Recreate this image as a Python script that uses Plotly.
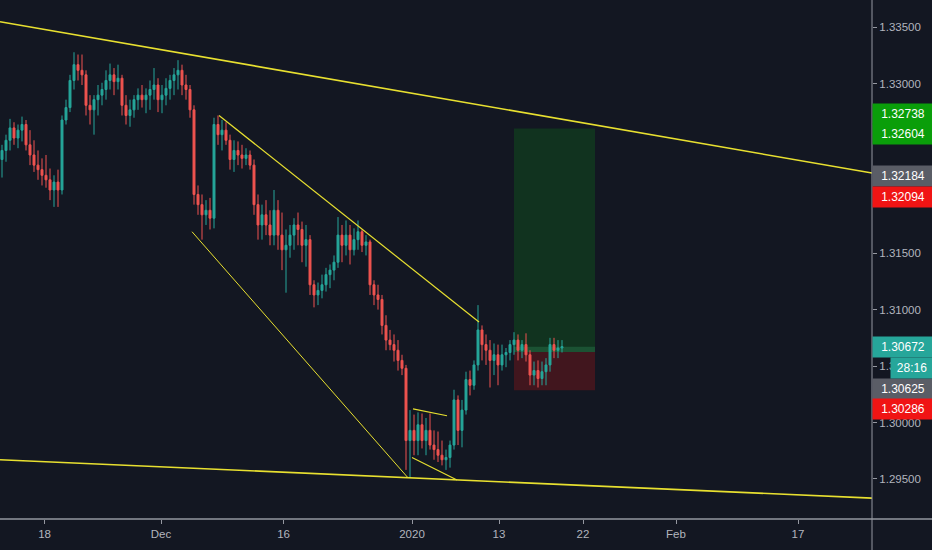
import plotly.graph_objs as go

# 4-hour-ish bars (price, GBP/USD style quotes)
first_open = 1.3233
closes = [1.3241, 1.3250, 1.3261, 1.3252, 1.3259, 1.3264, 1.3246, 1.3237, 1.3228, 1.3224,
          1.3219, 1.3215, 1.3206, 1.3213, 1.3206, 1.3268, 1.3279, 1.3303, 1.3317, 1.3312,
          1.3308, 1.3281, 1.3277, 1.3286, 1.3290, 1.3295, 1.3303, 1.3308, 1.3302, 1.3305,
          1.3281, 1.3272, 1.3277, 1.3286, 1.3290, 1.3286, 1.3290, 1.3295, 1.3299, 1.3286,
          1.3290, 1.3296, 1.3303, 1.3308, 1.3312, 1.3299, 1.3295, 1.3277, 1.3202, 1.3193,
          1.3184, 1.3188, 1.3181, 1.3264, 1.3255, 1.3259, 1.3250, 1.3233, 1.3241, 1.3237,
          1.3234, 1.3237, 1.3228, 1.3193, 1.3175, 1.3184, 1.3175, 1.3166, 1.3188, 1.3166,
          1.3153, 1.3157, 1.3166, 1.3175, 1.3171, 1.3157, 1.3162, 1.3122, 1.3113, 1.3117,
          1.3122, 1.3131, 1.3135, 1.3142, 1.3166, 1.3157, 1.3166, 1.3153, 1.3162, 1.3169,
          1.3157, 1.3160, 1.3122, 1.3113, 1.3109, 1.3086, 1.3073, 1.3069, 1.3064, 1.3055,
          1.3048, 1.2984, 1.2993, 1.2984, 1.2998, 1.2984, 1.2993, 1.2980, 1.2976, 1.2971,
          1.2967, 1.2969, 1.2980, 1.3020, 1.2993, 1.3011, 1.3038, 1.3033, 1.3051, 1.3082,
          1.3069, 1.3064, 1.3055, 1.3060, 1.3051, 1.3060, 1.3062, 1.3069, 1.3073, 1.3064,
          1.3069, 1.3060, 1.3042, 1.3046, 1.3039, 1.3045, 1.3051, 1.3069, 1.3064, 1.3066,
          1.30672]
highs = [1.3246, 1.3255, 1.3269, 1.3266, 1.3264, 1.3271, 1.3268, 1.3259, 1.3250, 1.3241,
         1.3234, 1.3237, 1.3225, 1.3219, 1.3224, 1.3272, 1.3286, 1.3308, 1.3328, 1.3326,
         1.3326, 1.3312, 1.3290, 1.3290, 1.3299, 1.3301, 1.3312, 1.3318, 1.3314, 1.3317,
         1.3308, 1.3290, 1.3286, 1.3290, 1.3296, 1.3299, 1.3296, 1.3303, 1.3314, 1.3305,
         1.3299, 1.3305, 1.3308, 1.3314, 1.3321, 1.3317, 1.3308, 1.3299, 1.3281, 1.3210,
         1.3202, 1.3197, 1.3199, 1.3270, 1.3272, 1.3268, 1.3266, 1.3255, 1.3250, 1.3249,
         1.3246, 1.3243, 1.3241, 1.3233, 1.3202, 1.3193, 1.3197, 1.3188, 1.3206, 1.3197,
         1.3186, 1.3171, 1.3175, 1.3181, 1.3186, 1.3178, 1.3175, 1.3166, 1.3126, 1.3124,
         1.3131, 1.3137, 1.3140, 1.3148, 1.3182, 1.3175, 1.3179, 1.3175, 1.3172, 1.3179,
         1.3171, 1.3166, 1.3162, 1.3126, 1.3122, 1.3113, 1.3095, 1.3082, 1.3078, 1.3073,
         1.3060, 1.3051, 1.3011, 1.3007, 1.3009, 1.3008, 1.3004, 1.3008, 1.2993, 1.2992,
         1.2984, 1.2976, 1.2984, 1.3029, 1.3024, 1.3020, 1.3045, 1.3046, 1.3055, 1.3104,
         1.3086, 1.3078, 1.3073, 1.3070, 1.3069, 1.3069, 1.3066, 1.3073, 1.3080, 1.3078,
         1.3073, 1.3079, 1.3064, 1.3054, 1.3055, 1.3054, 1.3057, 1.3075, 1.3075, 1.3073,
         1.3073]
lows = [1.3217, 1.3231, 1.3241, 1.3246, 1.3243, 1.3249, 1.3241, 1.3228, 1.3222, 1.3215,
        1.3210, 1.3208, 1.3197, 1.3191, 1.3191, 1.3202, 1.3264, 1.3275, 1.3295, 1.3303,
        1.3299, 1.3272, 1.3264, 1.3255, 1.3272, 1.3281, 1.3286, 1.3295, 1.3290, 1.3295,
        1.3272, 1.3264, 1.3262, 1.3270, 1.3277, 1.3279, 1.3274, 1.3277, 1.3286, 1.3275,
        1.3274, 1.3281, 1.3286, 1.3290, 1.3295, 1.3290, 1.3286, 1.3270, 1.3193, 1.3184,
        1.3162, 1.3175, 1.3171, 1.3172, 1.3246, 1.3241, 1.3246, 1.3224, 1.3222, 1.3228,
        1.3225, 1.3228, 1.3224, 1.3184, 1.3162, 1.3162, 1.3166, 1.3157, 1.3157, 1.3153,
        1.3135, 1.3115, 1.3146, 1.3153, 1.3157, 1.3142, 1.3138, 1.3113, 1.3102, 1.3104,
        1.3110, 1.3116, 1.3119, 1.3126, 1.3137, 1.3142, 1.3148, 1.3140, 1.3148, 1.3153,
        1.3151, 1.3148, 1.3113, 1.3104, 1.3100, 1.3078, 1.3064, 1.3064, 1.3054, 1.3046,
        1.3042, 1.2958, 1.2951, 1.2971, 1.2971, 1.2977, 1.2971, 1.2976, 1.2967, 1.2965,
        1.2962, 1.2958, 1.2960, 1.2976, 1.2980, 1.2978, 1.3007, 1.3024, 1.3029, 1.3046,
        1.3055, 1.3051, 1.3031, 1.3042, 1.3033, 1.3046, 1.3049, 1.3055, 1.3060, 1.3055,
        1.3057, 1.3054, 1.3033, 1.3033, 1.3031, 1.3033, 1.3033, 1.3045, 1.3057, 1.3057,
        1.3062]
opens = [first_open] + closes[:-1]
bars = list(range(len(closes)))

# x axis labels (bar index where each date falls)
tick_pos = [10.65, 39.75, 70.4, 102.5, 124.25, 145.25, 168.5, 199]
tick_text = ['18', 'Dec', '16', '2020', '13', '22', 'Feb', '17']
price_ticks = [1.295, 1.300, 1.305, 1.310, 1.315, 1.320, 1.325, 1.330, 1.335]

# drawn trendlines: ([bar0, bar1], [price0, price1])
upper_long = ([-0.5, 217.5], [1.3355, 1.3221])
lower_long = ([-0.5, 217.5], [1.2967, 1.2933])
wedge_top = ([54.25, 119.25], [1.3272, 1.3089])
wedge_bot = ([47.5, 101.5], [1.3169, 1.2951])
flag_top = ([102.75, 111.25], [1.3012, 1.3006])
flag_bot = ([102.5, 113.75], [1.2969, 1.2949])

# long position tool
pos_bars = [128, 148.25]
take_profit = 1.32604
entry = 1.30625
stop_loss = 1.30286
last_price = 1.30672

# price scale labels: text, colour, drawn at price
scale_labels = [
    ('1.32738', '#0a9e0a', 1.32735),
    ('1.32604', '#0a9e0a', 1.32552),
    ('1.32184', '#5a5d66', 1.32184),
    ('1.32094', '#f01414', 1.31998),
    ('1.30672', '#26a69a', 1.30673),
    ('1.30625', '#5a5d66', 1.30301),
    ('1.30286', '#f01414', 1.30119),
]
countdown = ('28:16', '#26a69a', 1.30483)

BG = '#131722'
TXT = '#b2b5be'
YEL = '#e8e030'

candles = go.Candlestick(
    x=bars, open=opens, high=highs, low=lows, close=closes,
    increasing=dict(line=dict(color='#26a69a', width=1), fillcolor='#26a69a'),
    decreasing=dict(line=dict(color='#ef5350', width=1), fillcolor='#ef5350'),
    whiskerwidth=0,
    showlegend=False,
    hoverinfo='skip',
)

data = [candles]
for line, w in [(upper_long, 1.6), (lower_long, 1.6),
                (wedge_top, 1.2), (wedge_bot, 1.0),
                (flag_top, 1.2), (flag_bot, 1.2)]:
    data.append(go.Scatter(x=line[0], y=line[1], mode='lines',
                           line=dict(color=YEL, width=w),
                           showlegend=False, hoverinfo='skip'))

shapes = [
    dict(type='rect', xref='x', yref='y', x0=pos_bars[0], x1=pos_bars[1],
         y0=entry, y1=take_profit, fillcolor='#11331f', line=dict(width=0), layer='below'),
    dict(type='rect', xref='x', yref='y', x0=pos_bars[0], x1=pos_bars[1],
         y0=entry, y1=last_price, fillcolor='#1b5233', line=dict(width=0), layer='below'),
    dict(type='rect', xref='x', yref='y', x0=pos_bars[0], x1=pos_bars[1],
         y0=stop_loss, y1=entry, fillcolor='#41161e', line=dict(width=0), layer='below'),
    # price scale separator and time scale separator
    dict(type='line', xref='paper', yref='paper', x0=1, x1=1, y0=-0.07, y1=1,
         line=dict(color='#9598a1', width=1)),
    dict(type='line', xref='paper', yref='paper', x0=0, x1=1.07, y0=0, y1=0,
         line=dict(color='#9598a1', width=1.5)),
]

annotations = []
for text, color, yp in scale_labels:
    annotations.append(dict(
        xref='paper', yref='y', x=1, y=yp, xanchor='left', yanchor='middle',
        text=text, showarrow=False, bgcolor=color, width=60, height=20,
        borderpad=0, align='center',
        font=dict(family='Liberation Sans', size=12, color='white'),
    ))
annotations.append(dict(
    xref='paper', yref='y', x=1, y=countdown[2], xanchor='left', yanchor='middle',
    xshift=18, text=countdown[0], showarrow=False, bgcolor=countdown[1],
    width=42, height=20, borderpad=0, align='center',
    font=dict(family='Liberation Sans', size=12, color='white'),
))

layout = go.Layout(
    width=932, height=550,
    margin=dict(l=0, r=60, t=0, b=31),
    paper_bgcolor=BG, plot_bgcolor=BG,
    font=dict(family='Liberation Sans', size=11, color=TXT),
    xaxis=dict(
        range=[-0.5, 217.5], tickvals=tick_pos, ticktext=tick_text,
        ticks='outside', ticklen=4, tickcolor='#9598a1',
        showgrid=False, zeroline=False, showline=False,
        rangeslider=dict(visible=False), fixedrange=True,
        tickfont=dict(size=11.5, color=TXT),
    ),
    yaxis=dict(
        side='right', range=[1.29145, 1.33743],
        tickvals=price_ticks, ticktext=['%.5f' % p for p in price_ticks],
        ticks='outside', ticklen=4, tickcolor='#9598a1',
        showgrid=False, zeroline=False, showline=False, fixedrange=True,
        tickfont=dict(size=11.5, color=TXT),
    ),
    shapes=shapes,
    annotations=annotations,
)

fig = go.Figure(data=data, layout=layout)
fig.write_html('out.html',
               config={'displayModeBar': False},
               post_script="document.body.style.margin='0';"
                           "document.body.style.background='#131722';"
                           "document.body.style.overflow='hidden';")
